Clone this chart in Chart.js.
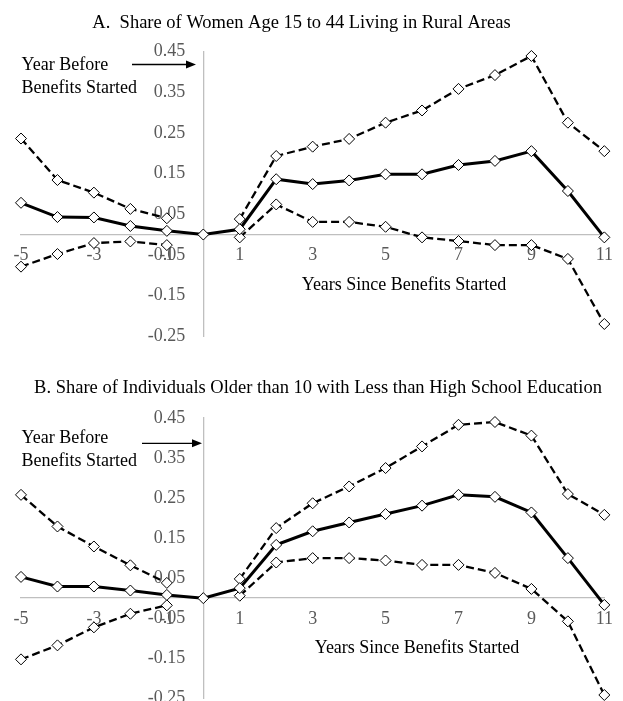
<!DOCTYPE html>
<html>
<head>
<meta charset="utf-8">
<script src="https://cdn.jsdelivr.net/npm/chart.js@4.4.1/dist/chart.umd.min.js"></script>
<style>
  html, body { margin: 0; padding: 0; background: #fff; overflow: hidden; }
  canvas { position: absolute; left: 0; }
</style>
</head>
<body>
<canvas id="chartA" width="623" height="350" style="top:0"></canvas>
<canvas id="chartB" width="623" height="362" style="top:350px"></canvas>
<script>
// years relative to when benefits started
const years = [-5, -4, -3, -2, -1, 0, 1, 2, 3, 4, 5, 6, 7, 8, 9, 10, 11];
const yTicks = [-0.25, -0.15, -0.05, 0.05, 0.15, 0.25, 0.35, 0.45];

// Panel A - women 15 to 44 in rural areas
const ruralEst   = [0.078, 0.043, 0.042, 0.021, 0.009, 0, 0.013, 0.136, 0.124, 0.133, 0.148, 0.148, 0.171, 0.181, 0.205, 0.107, -0.007];
const ruralUpper = [0.236, 0.134, 0.103, 0.063, 0.040, null, 0.038, 0.193, 0.216, 0.235, 0.275, 0.305, 0.358, 0.392, 0.439, 0.275, 0.205];
const ruralLower = [-0.079, -0.048, -0.021, -0.017, -0.026, null, -0.007, 0.074, 0.031, 0.031, 0.019, -0.007, -0.016, -0.026, -0.026, -0.060, -0.220];

// Panel B - older than 10 with less than high school
const schoolEst   = [0.053, 0.029, 0.029, 0.019, 0.008, 0, 0.025, 0.133, 0.167, 0.189, 0.210, 0.231, 0.258, 0.253, 0.214, 0.100, -0.017];
const schoolUpper = [0.258, 0.179, 0.129, 0.082, 0.038, null, 0.048, 0.175, 0.237, 0.279, 0.325, 0.379, 0.433, 0.440, 0.406, 0.260, 0.208];
const schoolLower = [-0.153, -0.118, -0.073, -0.039, -0.018, null, 0.006, 0.089, 0.100, 0.100, 0.094, 0.083, 0.083, 0.063, 0.023, -0.058, -0.242];

const serif = '"Liberation Serif", "Times New Roman", serif';
Chart.defaults.font.family = serif;

// titles, the "Year Before" note with its arrow, and the x axis title
const panelText = {
  id: 'panelText',
  afterDraw(chart, args, o) {
    const ctx = chart.ctx;
    ctx.save();
    ctx.fillStyle = '#000';
    ctx.textBaseline = 'middle';
    ctx.font = '18.5px ' + serif;
    ctx.textAlign = 'center';
    ctx.fillText(o.title, o.titleX, o.titleY);
    ctx.font = '18px ' + serif;
    ctx.fillText('Years Since Benefits Started', o.axisX, o.axisY);
    ctx.textAlign = 'left';
    ctx.fillText('Year Before', o.noteX, o.noteY);
    ctx.fillText('Benefits Started', o.noteX, o.noteY + 23.5);
    // arrow
    ctx.strokeStyle = '#000';
    ctx.lineWidth = 1.3;
    ctx.beginPath();
    ctx.moveTo(o.arrowX1, o.arrowY);
    ctx.lineTo(o.arrowX2 - 8, o.arrowY);
    ctx.stroke();
    ctx.beginPath();
    ctx.moveTo(o.arrowX2, o.arrowY);
    ctx.lineTo(o.arrowX2 - 10, o.arrowY - 4);
    ctx.lineTo(o.arrowX2 - 10, o.arrowY + 4);
    ctx.closePath();
    ctx.fill();
    ctx.restore();
  }
};

function lineSet(data, dashed) {
  return {
    data: data,
    borderColor: '#000',
    borderWidth: dashed ? 2.3 : 3,
    borderDash: dashed ? [8, 4] : [],
    tension: 0,
    spanGaps: false,
    clip: false,
    pointStyle: 'rectRot',
    pointRadius: 5.5,
    pointBackgroundColor: '#fff',
    pointBorderColor: '#000',
    pointBorderWidth: 1
  };
}

function makePanel(id, est, upper, lower, padding, text) {
  return new Chart(document.getElementById(id), {
    type: 'line',
    data: {
      labels: years,
      datasets: [lineSet(est, false), lineSet(upper, true), lineSet(lower, true)]
    },
    options: {
      responsive: false,
      animation: false,
      devicePixelRatio: 1,
      layout: { padding: padding },
      plugins: {
        legend: { display: false },
        tooltip: { enabled: false },
        panelText: text
      },
      scales: {
        x: {
          type: 'category',
          position: { y: 0 },
          grid: { display: false, drawTicks: false },
          border: { display: true, color: '#bfbfbf', width: 1.3 },
          ticks: {
            color: '#595959',
            font: { size: 18 },
            padding: 10,
            autoSkip: false,
            maxRotation: 0,
            callback: (v, i) => (years[i] % 2 !== 0 ? String(years[i]) : '')
          }
        },
        y: {
          type: 'linear',
          position: { x: years.indexOf(0) },
          min: -0.25,
          max: 0.45,
          afterBuildTicks: s => { s.ticks = yTicks.map(v => ({ value: v })); },
          grid: { display: false, drawTicks: false },
          border: { display: true, color: '#bfbfbf', width: 1.3 },
          ticks: {
            color: '#595959',
            font: { size: 18 },
            // padding is ignored for a positioned axis, so pad the text itself
            callback: v => v.toFixed(2) + '    '
          }
        }
      }
    },
    plugins: [panelText]
  });
}

makePanel('chartA', ruralEst, ruralUpper, ruralLower,
  { top: 51.5, bottom: 0, left: 21, right: 13 },
  {
    title: 'A.  Share of Women Age 15 to 44 Living in Rural Areas', titleX: 301.5, titleY: 23,
    noteX: 21.5, noteY: 65, arrowX1: 132, arrowX2: 196, arrowY: 64.5,
    axisX: 404, axisY: 285
  });

makePanel('chartB', schoolEst, schoolUpper, schoolLower,
  { top: 68, bottom: 4, left: 21, right: 12 },
  {
    title: 'B. Share of Individuals Older than 10 with Less than High School Education', titleX: 318, titleY: 38,
    noteX: 21.5, noteY: 88, arrowX1: 142, arrowX2: 202, arrowY: 93.3,
    axisX: 417, axisY: 298
  });
</script>
</body>
</html>
